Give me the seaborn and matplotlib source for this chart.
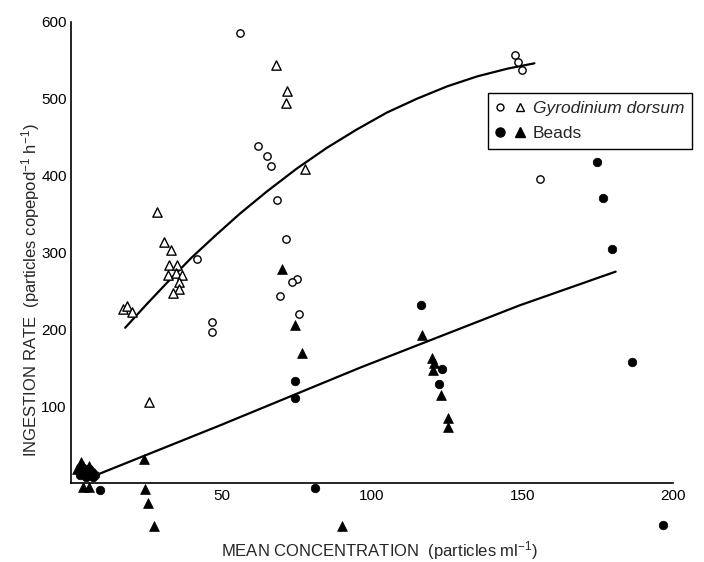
import numpy as np
import pandas as pd
import matplotlib
matplotlib.use("Agg")
import matplotlib.pyplot as plt
import seaborn as sns
from matplotlib.lines import Line2D
from matplotlib.legend_handler import HandlerTuple

# ---------------- data ----------------
gyro_circle_x = [56.1, 62.2, 65.0, 66.3, 68.3, 71.3, 75.0, 73.5, 69.4, 75.8,
                 42.0, 46.9, 46.9, 147.5, 148.5, 149.8, 155.8]
gyro_circle_y = [585, 439, 426, 413, 368, 317, 265, 261, 243, 220,
                 292, 210, 197, 557, 548, 537, 395]

gyro_tri_x = [28.5, 30.9, 33.1, 32.7, 35.3, 32.3, 34.9, 36.8, 35.9, 35.9, 34.0,
              17.4, 18.7, 20.2, 68.1, 71.7, 71.3, 77.7, 26.0]
gyro_tri_y = [353, 313, 303, 284, 284, 271, 273, 271, 261, 253, 247,
              226, 230, 222, 544, 510, 495, 408, 105]

bead_circle_x = [3.0, 4.0, 5.0, 6.0, 7.0, 8.0, 5.0, 3.0, 7.3, 9.6, 81.0,
                 74.6, 74.6, 116.2, 123.2, 122.4, 174.9, 176.8, 179.8, 186.3, 196.8]
bead_circle_y = [15, 20, 12, 18, 14, 10, 8, 10, 8, -9, -6,
                 133, 110, 231, 148, 129, 418, 371, 305, 157, -55]

bead_tri_x = [3.2, 2.0, 4.0, 6.0, 7.0, 4.0, 6.0, 24.4, 24.6, 25.7, 27.7, 90.0,
              70.2, 74.4, 76.6, 116.8, 120.0, 120.7, 120.4, 122.9, 125.3, 125.3]
bead_tri_y = [28, 18, 22, 22, 16, -5, -5, 31, -8, -26, -56, -56,
              279, 206, 169, 193, 163, 156, 147, 114, 85, 73]

fit_gyro_x = [18, 25, 32, 40, 48, 56, 65, 75, 85, 95, 105, 115, 125, 135, 145, 154]
fit_gyro_y = [202, 232, 261, 293, 322, 350, 379, 409, 436, 460, 482, 500, 516, 529, 539, 546]
fit_bead_x = [9.4, 49.5, 96, 149, 181]
fit_bead_y = [12, 75, 150, 231, 275]

x_ticks = [50, 100, 150, 200]
y_ticks = [100, 200, 300, 400, 500, 600]
legend_labels = ["Gyrodinium dorsum", "Beads"]

# ---------------- style ----------------
sns.set_style("white")
plt.rcParams["font.family"] = ["Liberation Sans", "DejaVu Sans"]
plt.rcParams["mathtext.fontset"] = "custom"
plt.rcParams["mathtext.rm"] = "Liberation Sans"
plt.rcParams["mathtext.it"] = "Liberation Sans:italic"

fig = plt.figure(figsize=(7.04, 5.62), dpi=100)
ax = fig.add_axes([0.1009, 0.0379, 0.889, 0.937])

sns.scatterplot(x=gyro_circle_x, y=gyro_circle_y, marker="o", s=28,
                color="white", edgecolor="black", linewidth=1.0, ax=ax, zorder=3)
sns.scatterplot(x=gyro_tri_x, y=gyro_tri_y, marker="^", s=45,
                color="white", edgecolor="black", linewidth=1.0, ax=ax, zorder=3)
sns.scatterplot(x=bead_circle_x, y=bead_circle_y, marker="o", s=38,
                color="black", edgecolor="black", linewidth=0.5, ax=ax, zorder=3)
sns.scatterplot(x=bead_tri_x, y=bead_tri_y, marker="^", s=50,
                color="black", edgecolor="black", linewidth=0.5, ax=ax, zorder=3)

sns.lineplot(x=fit_gyro_x, y=fit_gyro_y, color="black", lw=1.6,
             sort=False, estimator=None, ax=ax)
sns.lineplot(x=fit_bead_x, y=fit_bead_y, color="black", lw=1.6,
             sort=False, estimator=None, ax=ax)

ax.set_xlim(0, 208)
ax.set_ylim(-75, 610)
for s in ["top", "right"]:
    ax.spines[s].set_visible(False)
ax.spines["bottom"].set_position(("data", 0))
ax.spines["bottom"].set_bounds(0, 200)
ax.spines["left"].set_bounds(0, 600)
for s in ["bottom", "left"]:
    ax.spines[s].set_linewidth(1.2)
    ax.spines[s].set_color("black")

ax.set_xticks(x_ticks)
ax.set_xticklabels([str(t) for t in x_ticks])
ax.set_yticks(y_ticks)
ax.set_yticklabels([str(t) for t in y_ticks])
ax.tick_params(axis="x", direction="in", length=9, width=1, pad=4, labelsize=11, colors="black")
ax.tick_params(axis="y", direction="in", length=4.5, width=1, pad=3, labelsize=11, colors="black")

ax.set_xlabel("MEAN CONCENTRATION  (particles ml$^{-1}$)", fontsize=12, va="center")
ax.xaxis.set_label_coords(0.492, -0.018)
ax.set_ylabel("INGESTION RATE  (particles copepod$^{-1}$ h$^{-1}$)", fontsize=12)
ax.yaxis.set_label_coords(-0.047, 0.476)

h_gyro = (Line2D([], [], marker="o", ls="", mfc="white", mec="black", ms=5, mew=1),
          Line2D([], [], marker="^", ls="", mfc="white", mec="black", ms=5.5, mew=1))
h_bead = (Line2D([], [], marker="o", ls="", mfc="black", mec="black", ms=6.5),
          Line2D([], [], marker="^", ls="", mfc="black", mec="black", ms=7))
leg = ax.legend([h_gyro, h_bead], legend_labels,
                handler_map={tuple: HandlerTuple(ndivide=None, pad=0.6)},
                loc="upper right", bbox_to_anchor=(0.992, 0.850),
                borderaxespad=0,
                frameon=True, fancybox=False, framealpha=1, edgecolor="black",
                fontsize=12.5, handlelength=1.6, labelspacing=0.55, borderpad=0.45,
                handletextpad=0.5)
leg.get_frame().set_linewidth(1)
leg.get_texts()[0].set_style("italic")

fig.savefig("out.png", dpi=100)
